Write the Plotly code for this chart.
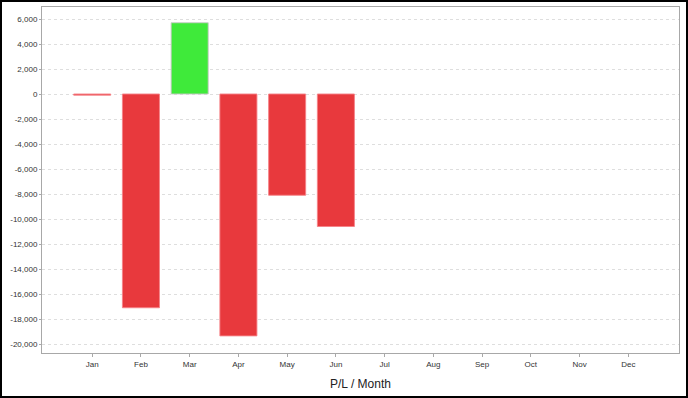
import plotly.graph_objects as go

months = ["Jan", "Feb", "Mar", "Apr", "May", "Jun", "Jul", "Aug", "Sep", "Oct", "Nov", "Dec"]
pl_values = [-90, -17100, 5700, -19350, -8100, -10600, None, None, None, None, None, None]
y_ticks = list(range(-20000, 6001, 2000))

RED = "#E8393D"
GREEN = "#3FEA3A"
colors = [GREEN if (v is not None and v > 0) else RED for v in pl_values]
line_colors = ["rgba(200,200,200,0.9)" if (v is not None and v > 0) else "rgba(245,130,135,0.9)" for v in pl_values]

W, H = 688, 398
L, R, T, B = 42, 9, 7, 45

fig = go.Figure(
    go.Bar(
        x=months,
        y=pl_values,
        width=0.76,
        marker=dict(color=colors, line=dict(color=line_colors, width=1)),
        hoverinfo="x+y",
    )
)

pw = W - L - R
ph = H - T - B

fig.update_layout(
    width=W,
    height=H,
    margin=dict(l=L, r=R, t=T, b=B, pad=0),
    paper_bgcolor="white",
    plot_bgcolor="white",
    showlegend=False,
    font=dict(family="Liberation Sans, Arial, sans-serif", color="#333333", size=8),
    xaxis=dict(
        type="category",
        range=[-1.03, 12.04],
        showgrid=False,
        showline=True,
        linecolor="#A8A8A8",
        linewidth=1,
        mirror=True,
        ticks="outside",
        ticklen=3,
        tickcolor="#A8A8A8",
        tickfont=dict(size=8, color="#333333"),
        title=dict(text="P/L / Month", font=dict(size=12, color="#222222"), standoff=12),
        fixedrange=True,
    ),
    yaxis=dict(
        range=[-20720, 6960],
        tickvals=y_ticks,
        ticktext=[f"{v:,}" for v in y_ticks],
        showgrid=True,
        gridcolor="#DEDEDE",
        griddash="3px,3px",
        gridwidth=1,
        zeroline=False,
        showline=True,
        linecolor="#A8A8A8",
        linewidth=1,
        mirror=True,
        ticks="outside",
        ticklen=2,
        tickcolor="#A8A8A8",
        tickfont=dict(size=8, color="#333333"),
        fixedrange=True,
    ),
    shapes=[
        dict(
            type="rect",
            xref="paper",
            yref="paper",
            x0=(1 - L) / pw,
            x1=(W - 1 - L) / pw,
            y0=(T + ph - (H - 1)) / ph,
            y1=(T + ph - 1) / ph,
            line=dict(color="black", width=2),
            fillcolor="rgba(0,0,0,0)",
            layer="above",
        )
    ],
)

fig.write_html(
    "out.html",
    config={"displayModeBar": False},
    post_script="document.body.style.margin='0';document.body.style.overflow='hidden';",
)
